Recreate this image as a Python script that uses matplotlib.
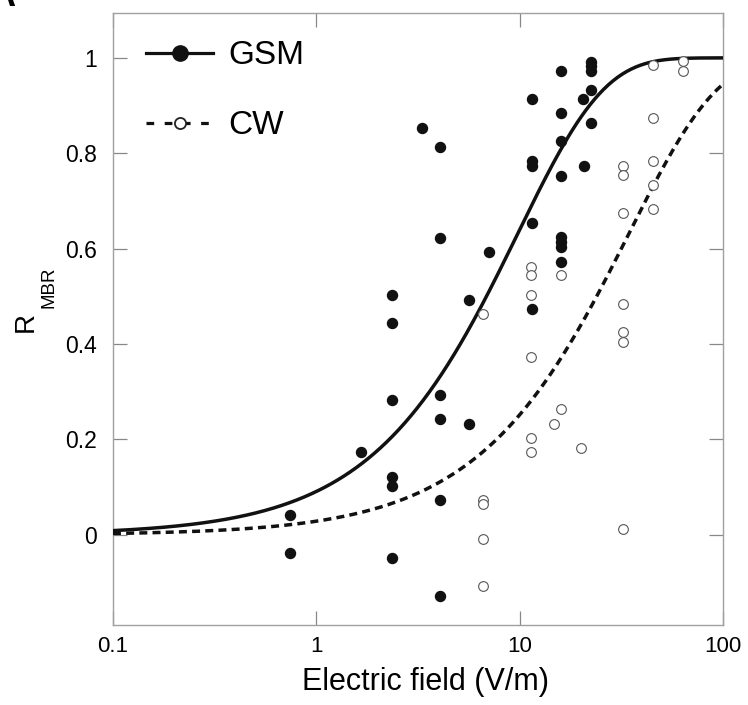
import numpy as np
import matplotlib
matplotlib.use('Agg')
import matplotlib.pyplot as plt

plt.rcParams['font.family'] = ['Liberation Sans', 'DejaVu Sans']

# GSM measurements (filled circles)
gsm_e = [0.74, 0.74, 1.65,
         2.35, 2.35, 2.35, 2.35, 2.35, 2.35,
         3.3,
         4.05, 4.05, 4.05, 4.05, 4.05, 4.05,
         5.63, 5.63, 7.06,
         11.5, 11.5, 11.5, 11.5, 11.5,
         16, 16, 16, 16, 16, 16, 16, 16,
         20.5, 20.8,
         22.4, 22.4, 22.4, 22.4, 22.4]
gsm_r = [0.042, -0.038, 0.173,
         0.503, 0.444, 0.282, 0.122, 0.103, -0.048,
         0.854,
         0.814, 0.623, 0.293, 0.243, 0.072, -0.129,
         0.493, 0.233, 0.593,
         0.914, 0.783, 0.774, 0.653, 0.473,
         0.973, 0.884, 0.825, 0.753, 0.624, 0.614, 0.603, 0.573,
         0.914, 0.774,
         0.992, 0.982, 0.973, 0.933, 0.863]

# CW measurements (open circles)
cw_e = [6.6, 6.6, 6.6, 6.6, 6.6,
        11.4, 11.4, 11.4, 11.4, 11.4, 11.4,
        14.8, 16.0, 16.0, 20.0,
        32.4, 32.4, 32.4, 32.4, 32.4, 32.4, 32.4,
        45.2, 45.2, 45.2, 45.2, 45.2,
        63.5, 63.5]
cw_r = [0.463, 0.073, 0.064, -0.008, -0.108,
        0.562, 0.544, 0.503, 0.373, 0.202, 0.173,
        0.233, 0.544, 0.263, 0.182,
        0.774, 0.755, 0.674, 0.484, 0.425, 0.405, 0.012,
        0.985, 0.873, 0.783, 0.734, 0.683,
        0.994, 0.973]

# fitted dose-response curves: R = 1 - exp(-(E/E0)^k)
gsm_e0, gsm_k = 9.8, 1.03
cw_e0, cw_k = 34.5, 1.0

xticks = [0.1, 1, 10, 100]
xticklabels = ['0.1', '1', '10', '100']
yticks = [0, 0.2, 0.4, 0.6, 0.8, 1]
yticklabels = ['0', '0.2', '0.4', '0.6', '0.8', '1']

W, H = 748, 705
fig = plt.figure(figsize=(W / 100, H / 100), dpi=100)
ax = fig.add_axes([0.151, 0.1135, 0.8156, 0.868])

E = np.logspace(-1, 2, 400)
ax.plot(E, 1 - np.exp(-(E / gsm_e0) ** gsm_k), color='#111111', lw=2.5, zorder=3)
ax.plot(E, 1 - np.exp(-(E / cw_e0) ** cw_k), color='#111111', lw=2.5,
        dashes=(2.3, 1.5), zorder=3)

ax.plot(gsm_e, gsm_r, 'o', ms=7.2, mfc='#111111', mec='#111111', zorder=4)
ax.plot(cw_e, cw_r, 'o', ms=7.0, mfc='white', mec='#555555', mew=0.8, zorder=4)

# legend handles
ax.plot([], [], color='#111111', lw=2.3, marker='o', ms=11, mfc='#111111',
        label='GSM')
ax.plot([], [], color='#111111', lw=2.3, dashes=(2.4, 3.3), marker='o', ms=8,
        mfc='white', mec='#222222', mew=1.3, label='CW')
ax.legend(loc='upper left', frameon=False, fontsize=24, handlelength=2.0,
          handletextpad=0.45, labelspacing=1.17, borderpad=0.4,
          borderaxespad=0.0, bbox_to_anchor=(0.033, 0.977))

ax.set_xscale('log')
ax.set_xlim(0.1, 100)
ax.set_ylim(-0.189, 1.094)
ax.set_xticks(xticks)
ax.set_xticklabels(xticklabels)
ax.set_yticks(yticks)
ax.set_yticklabels(yticklabels)
ax.minorticks_off()
ax.tick_params(axis='both', direction='in', length=10, width=0.9,
               color='#888888', top=True, right=True)
ax.tick_params(axis='x', labelsize=16, pad=8)
ax.tick_params(axis='y', labelsize=16.5, pad=11.5)
for s in ax.spines.values():
    s.set_color('#a0a0a0')
    s.set_linewidth(1.0)

ax.set_xlabel('Electric field (V/m)', fontsize=22)
ax.xaxis.set_label_coords(0.512, -0.0686)

# y label: R with a subscript MBR, drawn as two rotated texts
fig.text(33 / W, 1 - 322 / H, 'R', fontsize=20, rotation=90,
         rotation_mode='anchor', ha='center', va='baseline')
fig.text(53 / W, 1 - 287.5 / H, 'MBR', fontsize=13.5, rotation=90,
         rotation_mode='anchor', ha='center', va='baseline')

fig.text(15 / W, 1 - 6 / H, 'A', fontsize=26, fontweight='bold',
         ha='right', va='baseline')

fig.savefig('out.png', dpi=100)
